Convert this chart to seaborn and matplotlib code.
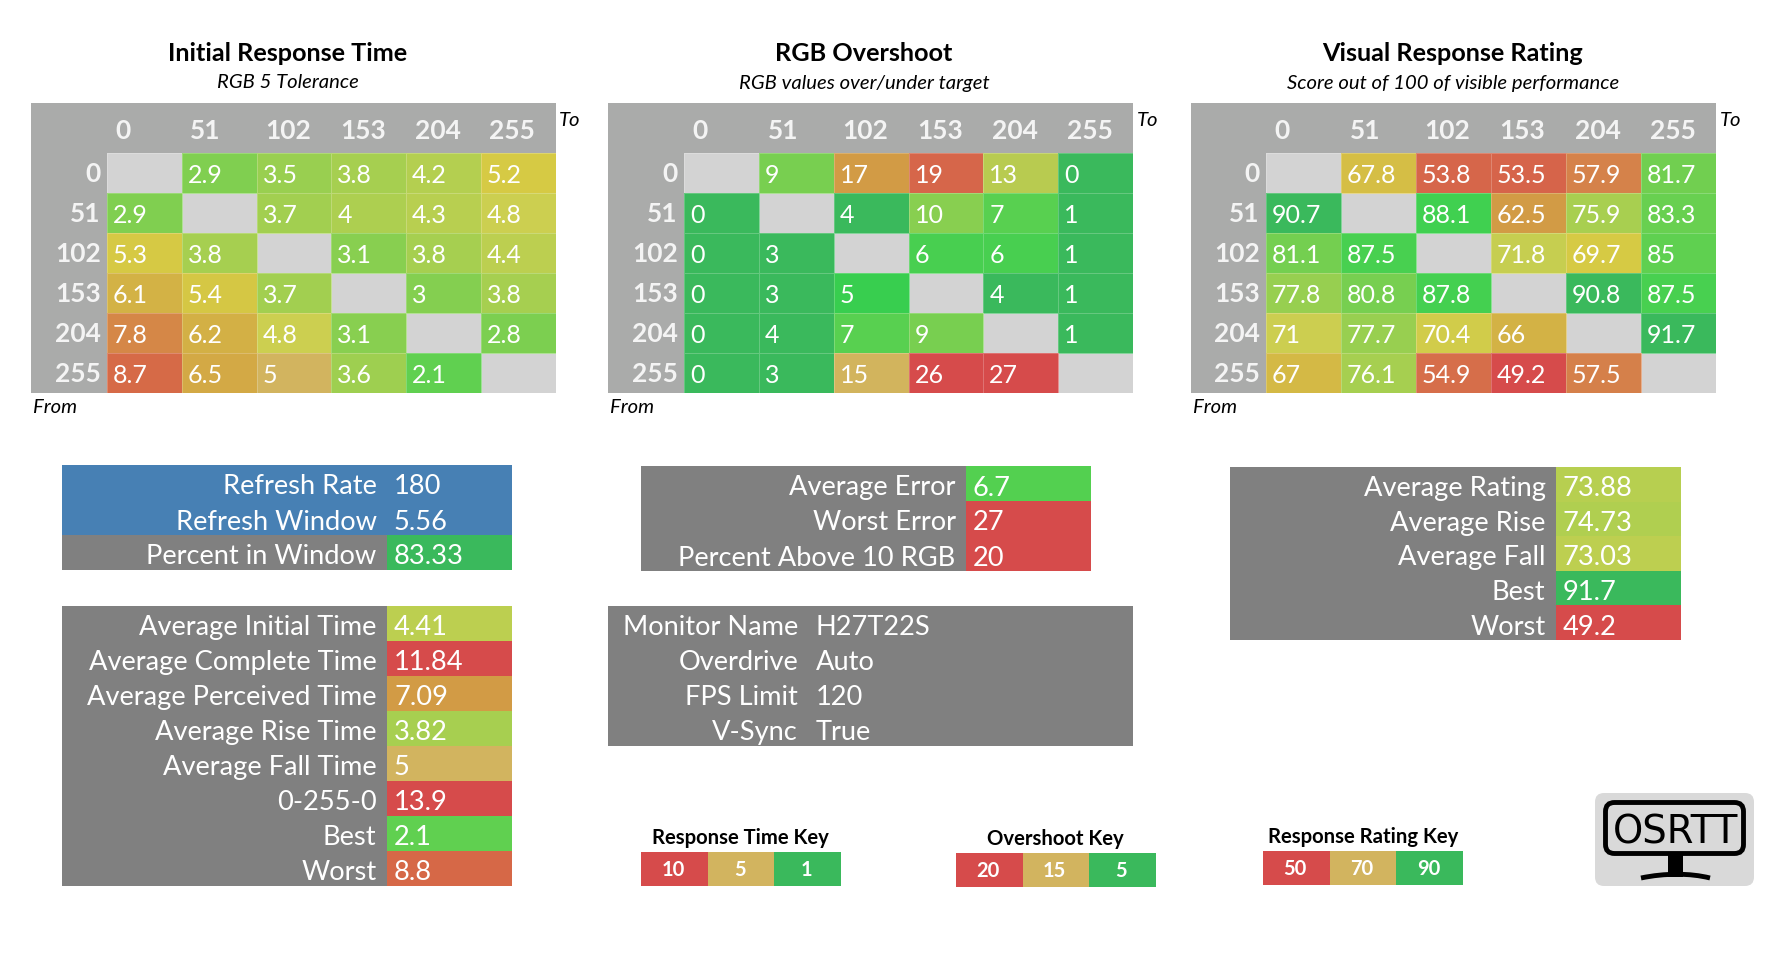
import numpy as np
import pandas as pd
import matplotlib
matplotlib.use("Agg")
import matplotlib.pyplot as plt
import seaborn as sns
from matplotlib.colors import LinearSegmentedColormap, ListedColormap
from matplotlib.patches import FancyBboxPatch, PathPatch, Rectangle
from matplotlib.path import Path

W, H = 1784, 962

# Data
levels = ["0", "51", "102", "153", "204", "255"]

initial_time = [
    [np.nan, 2.9, 3.5, 3.8, 4.2, 5.2],
    [2.9, np.nan, 3.7, 4, 4.3, 4.8],
    [5.3, 3.8, np.nan, 3.1, 3.8, 4.4],
    [6.1, 5.4, 3.7, np.nan, 3, 3.8],
    [7.8, 6.2, 4.8, 3.1, np.nan, 2.8],
    [8.7, 6.5, 5, 3.6, 2.1, np.nan],
]
overshoot = [
    [np.nan, 9, 17, 19, 13, 0],
    [0, np.nan, 4, 10, 7, 1],
    [0, 3, np.nan, 6, 6, 1],
    [0, 3, 5, np.nan, 4, 1],
    [0, 4, 7, 9, np.nan, 1],
    [0, 3, 15, 26, 27, np.nan],
]
rating = [
    [np.nan, 67.8, 53.8, 53.5, 57.9, 81.7],
    [90.7, np.nan, 88.1, 62.5, 75.9, 83.3],
    [81.1, 87.5, np.nan, 71.8, 69.7, 85],
    [77.8, 80.8, 87.8, np.nan, 90.8, 87.5],
    [71, 77.7, 70.4, 66, np.nan, 91.7],
    [67, 76.1, 54.9, 49.2, 57.5, np.nan],
]

refresh_labels = ["Refresh Rate", "Refresh Window"]
refresh_values = [180, 5.56]
window_labels = ["Percent in Window"]
window_values = [83.33]

time_labels = ["Average Initial Time", "Average Complete Time", "Average Perceived Time",
               "Average Rise Time", "Average Fall Time", "0-255-0", "Best", "Worst"]
time_values = [4.41, 11.84, 7.09, 3.82, 5, 13.9, 2.1, 8.8]

error_labels = ["Average Error", "Worst Error", "Percent Above 10 RGB"]
error_values = [6.7, 27, 20]

rating_labels = ["Average Rating", "Average Rise", "Average Fall", "Best", "Worst"]
rating_values = [73.88, 74.73, 73.03, 91.7, 49.2]

monitor_labels = ["Monitor Name", "Overdrive", "FPS Limit", "V-Sync"]
monitor_values = ["H27T22S", "Auto", "120", "True"]

key_time = [10, 5, 1]
key_overshoot = [20, 15, 5]
key_rating = [50, 70, 90]

# Colour scales (value, colour)
RED, TAN, GREEN = "#d64b4b", "#d2b45f", "#3ab95c"
time_stops = [(1, GREEN), (2.1, "#60d050"), (2.9, "#80cf50"), (3.8, "#a6cf50"), (4.2, "#b4cf50"),
              (4.8, "#cccf50"), (4.97, "#d2cc4c"), (5, TAN), (5.03, "#d5ca46"), (5.2, "#d6ca44"),
              (5.4, "#d5c744"), (6.1, "#d3b245"), (7.09, "#d29b45"), (7.8, "#d58747"),
              (8.7, "#d66a47"), (10, RED), (14, RED)]
over_stops = [(0, GREEN), (4.9, GREEN), (5, "#38cf4f"), (6, "#48cf50"), (7, "#58d050"), (9, "#78cf50"),
              (10, "#88cf50"), (13, "#b8cb50"), (14.9, "#d6ca44"), (14.97, "#d6ca44"), (15, TAN), (15.03, "#d2b050"),
              (17, "#d29b45"), (19, "#d6664a"), (20, RED), (30, RED)]
rate_stops = [(45, RED), (49.2, RED), (53.5, "#d6644a"), (57.5, "#d5804a"), (62.5, "#d29b45"),
              (66, "#d3b245"), (67, "#d4b945"), (69.7, "#d6ca44"), (71, "#ccce50"), (73, "#bdcf50"),
              (75.9, "#a8cf50"), (77.7, "#98cf50"), (81, "#75cf50"), (85, "#5fd050"), (87.5, "#48d050"),
              (88.1, "#40d050"), (90, GREEN), (100, GREEN)]

HEADER_GREY = "#aaabaa"
BLANK_GREY = "#d3d3d3"
PANEL_GREY = "#808080"
BLUE = "#4780b4"


def make_cmap(stops):
    lo, hi = stops[0][0], stops[-1][0]
    pts = [((v - lo) / (hi - lo), c) for v, c in stops]
    return LinearSegmentedColormap.from_list("scale", pts, N=4096), lo, hi


sns.set_theme(style="white")
plt.rcParams["font.family"] = ["Lato", "DejaVu Sans"]

fig = plt.figure(figsize=(W / 100, H / 100), dpi=100)

# Backdrop axes in pixel coordinates for panels and loose text
bg = fig.add_axes([0, 0, 1, 1])
bg.set_xlim(0, W)
bg.set_ylim(H, 0)
bg.axis("off")


def px_axes(x0, y0, x1, y1):
    return fig.add_axes([x0 / W, 1 - y1 / H, (x1 - x0) / W, (y1 - y0) / H])


def panel(x0, y0, x1, y1, color):
    bg.add_patch(Rectangle((x0, y0), x1 - x0, y1 - y0, color=color, lw=0))


def fmt(v):
    return f"{v:g}"


def draw_matrix(left, cells_left, right, values, stops, title, subtitle, title_x):
    top, head, bottom = 104, 154, 394
    panel(left, top, right, bottom, HEADER_GREY)
    ax = px_axes(cells_left, head, right, bottom)
    cmap, lo, hi = make_cmap(stops)
    df = pd.DataFrame(values, index=levels, columns=levels)
    annot = df.map(lambda v: "" if pd.isna(v) else fmt(v))
    sns.heatmap(df, ax=ax, cmap=cmap, vmin=lo, vmax=hi, annot=annot, fmt="", cbar=False,
                linewidths=0.7, linecolor=(1, 1, 1, 0.22),
                annot_kws={"color": "white", "fontsize": 18, "ha": "left", "va": "center"})
    ax.set_facecolor(BLANK_GREY)
    cell_w = (right - cells_left) / 6
    for t in ax.texts:
        x, y = t.get_position()
        t.set_position((x - 0.5 + 6 / cell_w, y + 0.05))
    ax.xaxis.tick_top()
    ax.set_xticks(np.arange(6) + 8.6 / cell_w)
    ax.set_xticklabels(levels, rotation=0, ha="left", color="#f4f4f4", fontweight="bold", fontsize=19)
    ax.set_yticks(np.arange(6) + 0.5)
    ax.set_yticklabels(levels, rotation=0, ha="right", va="center", color="#f4f4f4", fontweight="bold", fontsize=19)
    ax.tick_params(axis="x", length=0, pad=8.2)
    ax.tick_params(axis="y", length=0, pad=4.5)
    ax.set_xlabel("")
    ax.set_ylabel("")
    bg.text(title_x, 53.5, title, ha="center", va="center", fontweight="bold", fontsize=18.2, color="black")
    bg.text(title_x, 83, subtitle, ha="center", va="center", style="italic", fontsize=14.6, color="black")
    bg.text(right + 3.5, 121, "To", ha="left", va="center", style="italic", fontsize=14.6, color="black")
    bg.text(left + 2, 408, "From", ha="left", va="center", style="italic", fontsize=14.6, color="black")


def draw_rows(x0, split, x1, y0, labels, values, cmap, lo, hi, label_color=PANEL_GREY, row_h=35):
    y1 = y0 + row_h * len(values)
    panel(x0, y0, split, y1, label_color)
    ax = px_axes(split, y0, x1, y1)
    df = pd.DataFrame({"value": values}, index=labels)
    annot = df.map(fmt)
    sns.heatmap(df, ax=ax, cmap=cmap, vmin=lo, vmax=hi, annot=annot, fmt="", cbar=False,
                xticklabels=False, annot_kws={"color": "white", "fontsize": 19.6, "ha": "left", "va": "center"})
    for t in ax.texts:
        x, y = t.get_position()
        t.set_position((7 / (x1 - split), y + 0.1))
    ax.set_yticks(np.arange(len(values)) + 0.6)
    ax.set_yticklabels(labels, rotation=0, ha="right", va="center", color="white", fontsize=19.6)
    ax.tick_params(axis="y", length=0, pad=7.5)
    ax.set_ylabel("")


def draw_key(x0, x1, y0, values, title, title_x, title_y):
    ax = px_axes(x0, y0, x1, y0 + 34)
    df = pd.DataFrame([[0, 1, 2]], columns=values)
    sns.heatmap(df, ax=ax, cmap=ListedColormap([RED, TAN, GREEN]), vmin=0, vmax=2,
                annot=[[fmt(v) for v in values]], fmt="", cbar=False,
                xticklabels=False, yticklabels=False,
                annot_kws={"color": "white", "fontsize": 14.5, "fontweight": "bold"})
    for t in ax.texts:
        x, y = t.get_position()
        t.set_position((x - 0.02, y))
    ax.set_ylabel("")
    bg.text(title_x, title_y, title, ha="center", va="center", fontweight="bold", fontsize=14.6, color="black")


# Heatmaps
draw_matrix(31, 107, 555.5, initial_time, time_stops, "Initial Response Time", "RGB 5 Tolerance", 288)
draw_matrix(608, 684, 1133, overshoot, over_stops, "RGB Overshoot", "RGB values over/under target", 864)
draw_matrix(1191, 1266, 1716, rating, rate_stops, "Visual Response Rating", "Score out of 100 of visible performance", 1453)

# Left tables
draw_rows(62, 387, 512, 466, refresh_labels, refresh_values, ListedColormap([BLUE]), 0, 1, BLUE)
draw_rows(62, 387, 512, 536, window_labels, window_values, ListedColormap([GREEN]), 0, 100)
t_cmap, t_lo, t_hi = make_cmap(time_stops)
draw_rows(62, 387, 512, 607, time_labels, time_values, t_cmap, t_lo, t_hi)

# Middle tables
o_cmap, o_lo, o_hi = make_cmap(over_stops)
draw_rows(641, 966, 1091, 467, error_labels, error_values, o_cmap, o_lo, o_hi)
panel(608, 607, 1133, 747, PANEL_GREY)
for i, (lab, val) in enumerate(zip(monitor_labels, monitor_values)):
    bg.text(798, 607 + 35 * (i + 0.6), lab, ha="right", va="center", color="white", fontsize=19.6)
    bg.text(816, 607 + 35 * (i + 0.6), val, ha="left", va="center", color="white", fontsize=19.6)

# Right table
r_cmap, r_lo, r_hi = make_cmap(rate_stops)
draw_rows(1230, 1556, 1681, 468, rating_labels, rating_values, r_cmap, r_lo, r_hi, row_h=34.6)

# Keys
draw_key(641, 841, 853, key_time, "Response Time Key", 740, 838)
draw_key(956, 1156, 854, key_overshoot, "Overshoot Key", 1055.5, 839)
draw_key(1263, 1463, 852, key_rating, "Response Rating Key", 1363, 837)

# OSRTT logo
bg.add_patch(FancyBboxPatch((1595, 794), 159, 93, boxstyle="round,pad=0,rounding_size=9",
                            fc="#d9d9d9", ec="none", lw=0))
bg.add_patch(FancyBboxPatch((1605.5, 803.5), 138, 51, boxstyle="round,pad=0,rounding_size=9",
                            fc="none", ec="black", lw=3.5))
bg.add_patch(Rectangle((1668, 856), 15, 22, color="black", lw=0))
base = Path([(1641, 879), (1665, 874), (1690, 874), (1710, 879)], [Path.MOVETO, Path.CURVE4, Path.CURVE4, Path.CURVE4])
bg.add_patch(PathPatch(base, fc="none", ec="black", lw=3.5))
bg.text(1676, 833, "OSRTT", ha="center", va="center", family="DejaVu Sans", fontsize=27.8, color="black")

plt.savefig("out.png", dpi=100)
plt.close()
